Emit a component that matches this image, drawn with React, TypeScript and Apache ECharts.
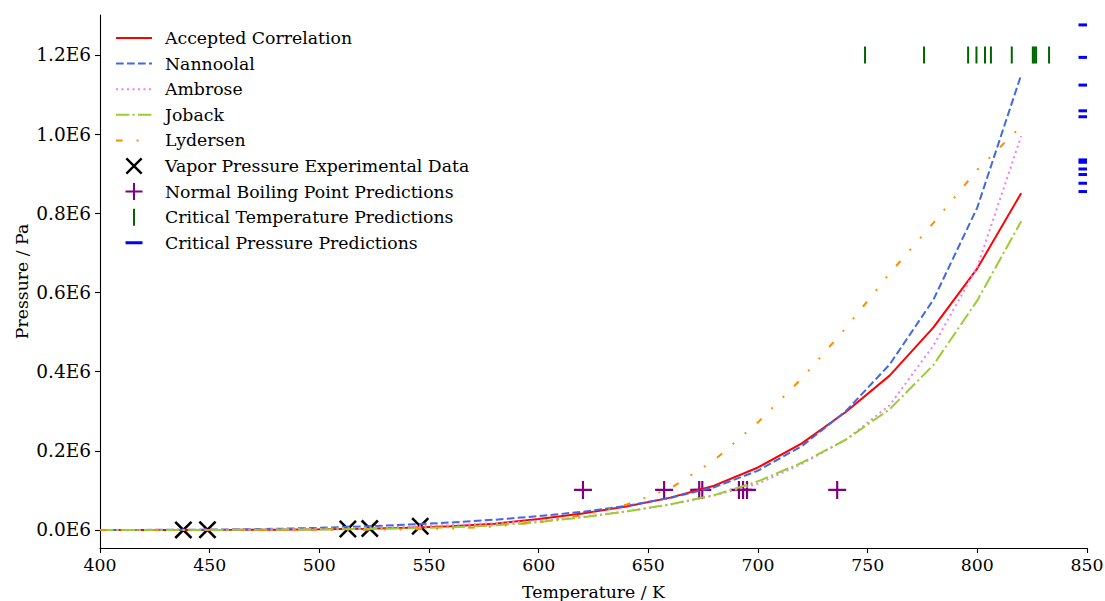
import React, { useEffect, useRef } from 'react';
import * as echarts from 'echarts';

// ---- data ----
const temperatures = [400, 420, 440, 460, 480, 500, 520, 540, 560, 580, 600, 620, 640, 660, 680, 700, 720, 740, 760, 780, 800, 820];
const acceptedCorrelation = [20, 60, 160, 370, 800, 1600, 3000, 5500, 9500, 16000, 27600, 41600, 59600, 81800, 112000, 158000, 219000, 298000, 390000, 512000, 661000, 851000];
const nannoolal = [100, 300, 700, 1500, 3000, 5500, 9000, 13500, 19000, 26000, 35000, 46000, 61000, 81000, 108000, 150000, 212000, 300000, 418000, 582000, 815000, 1150000];
const ambrose = [50, 150, 400, 900, 1800, 3300, 5500, 8500, 12500, 17500, 23000, 33000, 47000, 64000, 87000, 117000, 167000, 228000, 315000, 466000, 665000, 995000];
const joback = [20, 60, 150, 350, 750, 1400, 2500, 4300, 7000, 11500, 20000, 32000, 47000, 65000, 88000, 123000, 170000, 228000, 305000, 417000, 580000, 780000];
const lydersen = [0, 5, 20, 60, 150, 350, 800, 1700, 3500, 9000, 20000, 37000, 64000, 105000, 176000, 272000, 383000, 510000, 648000, 776000, 910000, 1020000];

const expTemps = [438, 449, 513, 523, 546];
const expPressures = [300, 500, 2500, 3500, 9500];

const nbpTemps = [620.2, 657.2, 673.2, 674.6, 691.3, 693.2, 695.0, 736.1];
const nbpPressure = 101325;

const tcTemps = [748.8, 775.7, 795.8, 799.6, 803.5, 806.2, 815.7, 825.3, 826.0, 826.8, 832.7];
const tcPressure = 1200000;

const pcTemp = 850;
const pcPressures = [1276000, 1194000, 1124000, 1059000, 1044000, 935000, 929000, 912000, 898000, 876000, 855000];

const yTickValues = [0, 200000, 400000, 600000, 800000, 1000000, 1200000];

const FONT = 'DejaVu Serif';

const X_SYMBOL = 'path://M0,2L2,0L20,18L18,20Z M18,0L20,2L2,20L0,18Z';
const PLUS_SYMBOL = 'path://M8.8,0H11.2V8.8H20V11.2H11.2V20H8.8V11.2H0V8.8H8.8Z';
const VBAR_SYMBOL = 'path://M0,0H2V17H0Z';
const HALF_HBAR_SYMBOL = 'path://M0,0H8.5V3H0Z';
const HBAR_LEGEND = 'path://M0,0L0.01,0L0.01,0.01Z M9.5,7H26.5V10H9.5Z M35.99,17L36,17L36,16.99Z';

function lineSeries(name: string, values: number[], color: string, dash: any) {
  return {
    name,
    type: 'line',
    data: temperatures.map((t, i) => [t, values[i]]),
    symbol: 'none',
    showSymbol: false,
    lineStyle: { color, width: 2, type: dash, cap: 'butt' },
    itemStyle: { color },
    emphasis: { disabled: true },
  };
}

const hiddenSymbol = { itemStyle: { opacity: 0 } };

export default function App() {
  const ref = useRef<HTMLDivElement>(null);
  useEffect(() => {
    if (!ref.current) return;
    const chart = echarts.init(ref.current, undefined, { renderer: 'svg' });
    const option: any = {
      animation: false,
      backgroundColor: '#ffffff',
      grid: { left: 100, right: 18, top: 15, bottom: 53, containLabel: false, outerBoundsMode: 'none' },
      legend: {
        orient: 'vertical',
        left: 115,
        top: 29.5,
        padding: 0,
        itemWidth: 36,
        itemHeight: 17,
        itemGap: 8.6,
        selectedMode: false,
        textStyle: { fontFamily: FONT, fontSize: 17.3, color: '#000', padding: [0, 0, 0, 8] },
        data: [
          { name: 'Accepted Correlation', ...hiddenSymbol },
          { name: 'Nannoolal', ...hiddenSymbol },
          { name: 'Ambrose', ...hiddenSymbol },
          { name: 'Joback', ...hiddenSymbol },
          { name: 'Lydersen', ...hiddenSymbol },
          { name: 'Vapor Pressure Experimental Data' },
          { name: 'Normal Boiling Point Predictions' },
          { name: 'Critical Temperature Predictions' },
          { name: 'Critical Pressure Predictions', icon: HBAR_LEGEND },
        ],
      },
      xAxis: {
        type: 'value',
        min: 400,
        max: 850,
        interval: 50,
        name: 'Temperature / K',
        nameLocation: 'middle',
        nameGap: 35,
        nameMoveOverlap: false,
        nameTextStyle: { fontFamily: FONT, fontSize: 17.3, color: '#000' },
        axisLine: { show: true, onZero: false, lineStyle: { color: '#000', width: 1.1 } },
        axisTick: { show: true, inside: false, length: 5, lineStyle: { color: '#000', width: 1.1 } },
        axisLabel: { show: true, margin: 8, fontFamily: FONT, fontSize: 17.3, color: '#000', showMinLabel: true, showMaxLabel: true },
        splitLine: { show: false },
      },
      yAxis: {
        type: 'value',
        min: -45474,
        max: 1301050,
        name: 'Pressure / Pa',
        nameLocation: 'middle',
        nameGap: 70,
        nameRotate: 90,
        nameMoveOverlap: false,
        nameTextStyle: { fontFamily: FONT, fontSize: 17.3, color: '#000' },
        axisLine: { show: true, onZero: false, lineStyle: { color: '#000', width: 1.1 } },
        axisTick: { show: true, inside: false, length: 5, customValues: yTickValues, lineStyle: { color: '#000', width: 1.1 } },
        axisLabel: {
          show: true,
          margin: 9,
          fontFamily: FONT,
          fontSize: 18.5,
          color: '#000',
          customValues: yTickValues,
          formatter: (v: number) => (v / 1e6).toFixed(1) + 'E6',
        },
        splitLine: { show: false },
      },
      series: [
        lineSeries('Accepted Correlation', acceptedCorrelation, '#FF0000', 'solid'),
        lineSeries('Nannoolal', nannoolal, '#4169E1', [7.7, 3.3]),
        lineSeries('Ambrose', ambrose, '#EE82EE', [2.1, 3.4]),
        lineSeries('Joback', joback, '#9ACD32', [13.3, 3.3, 2.1, 3.3]),
        lineSeries('Lydersen', lydersen, '#FF8C00', [6.6, 14, 2, 14, 2, 14]),
        {
          name: 'Vapor Pressure Experimental Data',
          type: 'scatter',
          data: expTemps.map((t, i) => [t, expPressures[i]]),
          symbol: X_SYMBOL,
          symbolSize: 18,
          itemStyle: { color: '#000000', opacity: 1 },
          emphasis: { disabled: true },
        },
        {
          name: 'Normal Boiling Point Predictions',
          type: 'scatter',
          data: nbpTemps.map((t) => [t, nbpPressure]),
          symbol: PLUS_SYMBOL,
          symbolSize: 18,
          itemStyle: { color: '#800080', opacity: 1 },
          emphasis: { disabled: true },
        },
        {
          name: 'Critical Temperature Predictions',
          type: 'scatter',
          data: tcTemps.map((t) => [t, tcPressure]),
          symbol: VBAR_SYMBOL,
          symbolSize: [2, 17],
          itemStyle: { color: '#006400', opacity: 1 },
          emphasis: { disabled: true },
        },
        {
          name: 'Critical Pressure Predictions',
          type: 'scatter',
          clip: false,
          data: pcPressures.map((p) => [pcTemp, p]),
          symbol: HALF_HBAR_SYMBOL,
          symbolSize: [8.5, 3],
          symbolOffset: [-4.25, 0],
          itemStyle: { color: '#0000FF', opacity: 1 },
          emphasis: { disabled: true },
        },
      ],
    };
    chart.setOption(option);
    return () => chart.dispose();
  }, []);
  return (
    <div
      ref={ref}
      style={{ position: 'fixed', left: 0, top: 0, width: 1105, height: 601, background: '#fff' }}
    />
  );
}
